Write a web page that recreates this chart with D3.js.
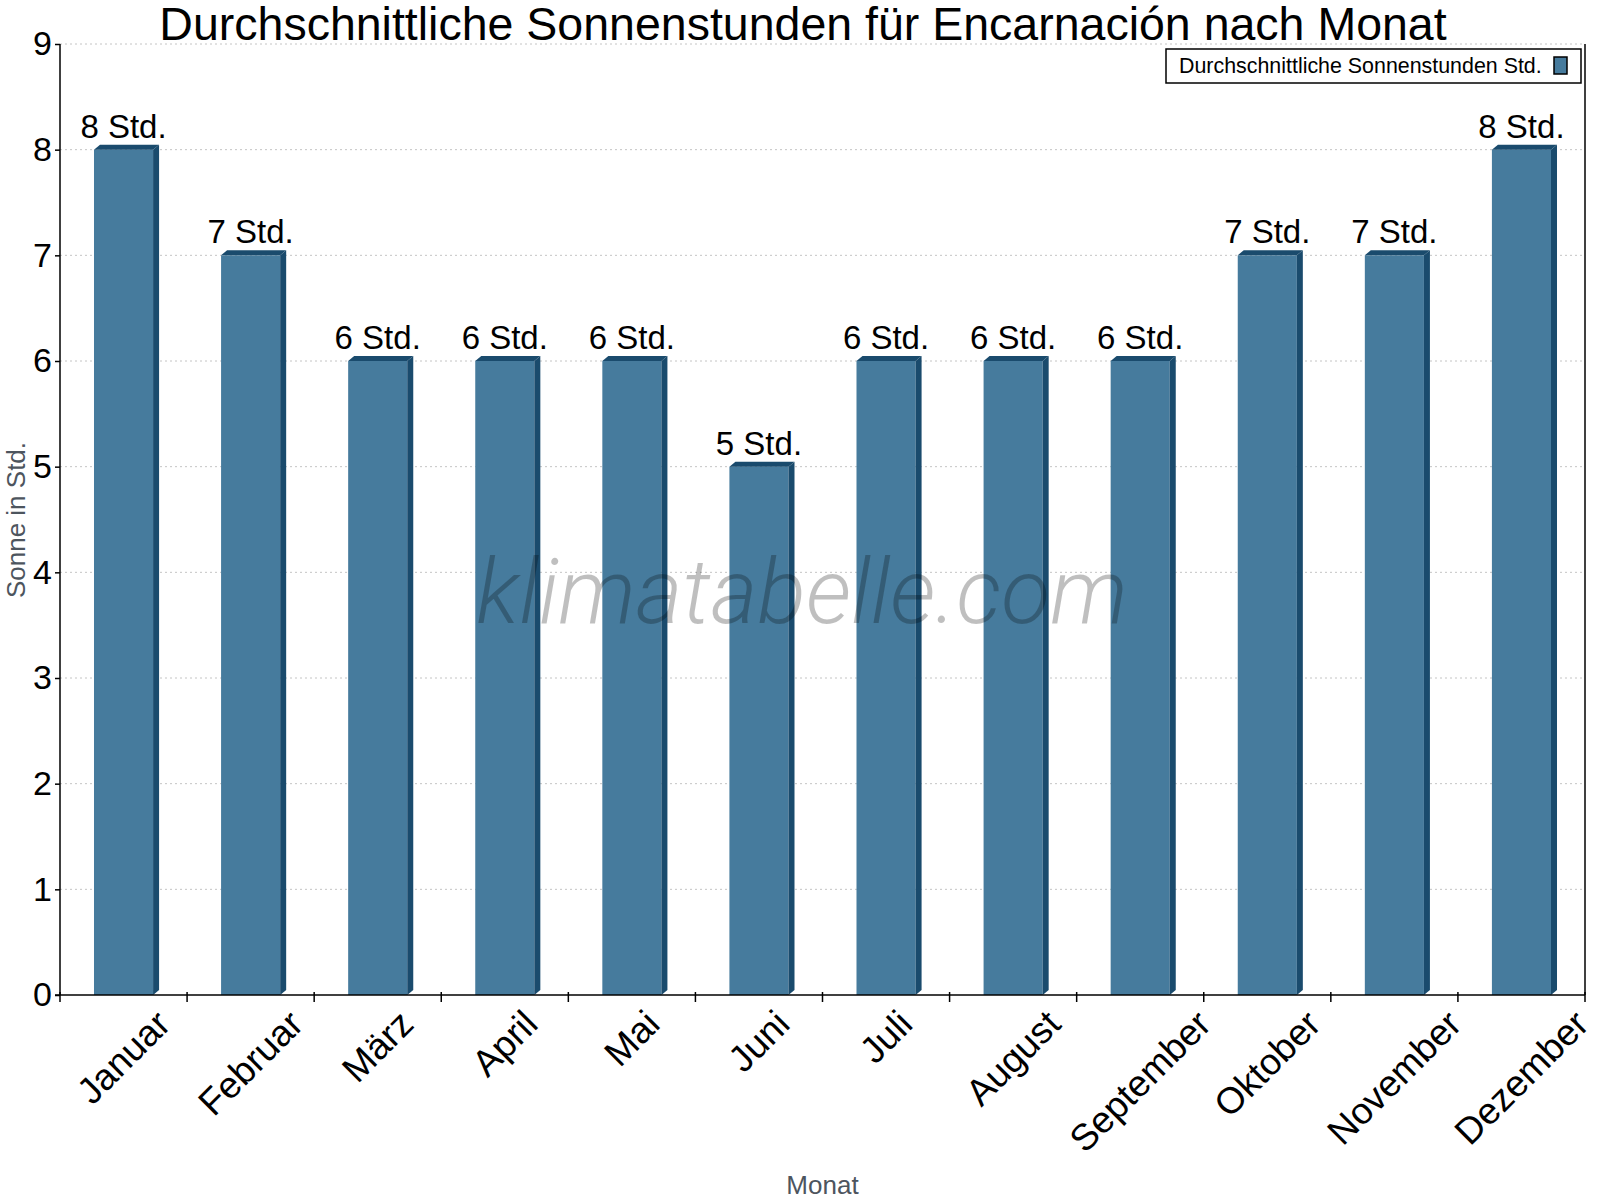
<!DOCTYPE html>
<html>
<head>
<meta charset="utf-8">
<script src="https://cdn.jsdelivr.net/npm/d3@7"></script>
<style>
  html, body { margin: 0; padding: 0; background: #fff; }
  svg { display: block; }
  text { font-family: "Liberation Sans", Arial, sans-serif; }
</style>
</head>
<body>
<svg id="chart" width="1600" height="1200"></svg>
<script>
const chartTitle = "Durchschnittliche Sonnenstunden für Encarnación nach Monat";
const months = ["Januar", "Februar", "März", "April", "Mai", "Juni", "Juli", "August", "September", "Oktober", "November", "Dezember"];
const sunHours = [8, 7, 6, 6, 6, 5, 6, 6, 6, 7, 7, 8];
const yTicks = [0, 1, 2, 3, 4, 5, 6, 7, 8, 9];
const unitLabel = "Std.";
const legendLabel = "Durchschnittliche Sonnenstunden Std.";
const yAxisTitle = "Sonne in Std.";
const xAxisTitle = "Monat";
const watermark = "klimatabelle.com";

const frontColor = "#467b9d";
const darkColor = "#1a4b6d";

const svg = d3.select("#chart");
const plotL = 60, plotR = 1585, plotT = 44, plotB = 995;

const x = d3.scaleBand().domain(months).range([plotL, plotR]).padding(0);
const y = d3.scaleLinear().domain([0, 9]).range([plotB, plotT]);
const bw = x.bandwidth();
const barW = bw * 0.465;
const depthX = 6, depthY = 5;

// gridlines
svg.append("g").selectAll("line").data(yTicks.filter(t => t > 0)).join("line")
  .attr("x1", plotL).attr("x2", plotR)
  .attr("y1", d => y(d)).attr("y2", d => y(d))
  .attr("stroke", "#c4c4c4").attr("stroke-width", 1)
  .attr("stroke-dasharray", "2,3");

// bars
const barData = months.map((m, i) => ({m, v: sunHours[i]}));
const bars = svg.append("g").selectAll("g").data(barData).join("g");
bars.each(function(d) {
  const g = d3.select(this);
  const x0 = x(d.m) + (bw - barW) / 2, x1 = x0 + barW;
  const yt = y(d.v), yb = y(0);
  g.append("rect").attr("x", x0).attr("y", yt).attr("width", barW).attr("height", yb - yt).attr("fill", frontColor);
  g.append("polygon").attr("fill", darkColor)
    .attr("points", [[x1, yt], [x1 + depthX, yt - depthY], [x1 + depthX, yb - depthY], [x1, yb]].map(p => p.join(",")).join(" "));
  g.append("polygon").attr("fill", darkColor)
    .attr("points", [[x0, yt], [x0 + depthX, yt - depthY], [x1 + depthX, yt - depthY], [x1, yt]].map(p => p.join(",")).join(" "));
});

// value labels
svg.append("g").selectAll("text").data(barData).join("text")
  .attr("x", d => x(d.m) + bw / 2)
  .attr("y", d => y(d.v) - 12)
  .attr("text-anchor", "middle")
  .attr("font-size", 33)
  .attr("fill", "#000")
  .text(d => `${d.v} ${unitLabel}`);

// watermark
svg.append("text")
  .attr("x", 802).attr("y", 623)
  .attr("text-anchor", "middle")
  .attr("font-size", 90)
  .attr("font-style", "italic")
  .attr("font-weight", 300)
  .style("font-family", "Roboto, 'Open Sans', sans-serif")
  .attr("fill", "#000").attr("fill-opacity", 0.25)
  .text(watermark);

// y axis
const yAxis = svg.append("g").attr("transform", `translate(${plotL},0)`)
  .call(d3.axisLeft(y).tickValues(yTicks).tickFormat(d3.format("d")).tickSize(5).tickPadding(3));
yAxis.select(".domain").attr("stroke", "#000").attr("stroke-width", 1.5).attr("d", `M0,${plotT}V${plotB}`);
yAxis.selectAll(".tick line").attr("stroke", "#000").attr("stroke-width", 1.5);
yAxis.selectAll(".tick text").attr("font-size", 34).attr("fill", "#000")
  .style("font-family", "'Liberation Sans', Arial, sans-serif");

// right border
svg.append("line").attr("x1", plotR).attr("x2", plotR).attr("y1", plotT).attr("y2", plotB)
  .attr("stroke", "#000").attr("stroke-width", 1.5);

// x axis
svg.append("line").attr("x1", plotL - 5).attr("x2", plotR).attr("y1", plotB).attr("y2", plotB)
  .attr("stroke", "#000").attr("stroke-width", 1.5);
const boundaries = months.map(m => x(m)).concat([plotR]);
svg.append("g").selectAll("line").data(boundaries).join("line")
  .attr("x1", d => d).attr("x2", d => d).attr("y1", plotB - 3).attr("y2", plotB + 7)
  .attr("stroke", "#000").attr("stroke-width", 1.5);

// x labels (rotated, top of bounding box aligned)
const xFont = 37;
const xl = svg.append("g").selectAll("text").data(months).join("text")
  .attr("font-size", xFont).attr("fill", "#000")
  .attr("text-anchor", "middle").attr("dominant-baseline", "central")
  .text(d => d);
xl.each(function(d) {
  const L = this.getComputedTextLength();
  const h = 0.72 * xFont;
  const half = (L + h) * Math.SQRT1_2 / 2;
  const cx = x(d) + bw / 2;
  const cy = 1008 + half;
  d3.select(this).attr("transform", `translate(${cx},${cy}) rotate(-45)`);
});

// axis titles
svg.append("text").attr("transform", `translate(25,520) rotate(-90)`)
  .attr("text-anchor", "middle").attr("font-size", 26).attr("fill", "#4d555e")
  .text(yAxisTitle);
svg.append("text").attr("x", (plotL + plotR) / 2).attr("y", 1194)
  .attr("text-anchor", "middle").attr("font-size", 26).attr("fill", "#4d555e")
  .text(xAxisTitle);

// title
svg.append("text").attr("x", 803).attr("y", 40)
  .attr("text-anchor", "middle").attr("font-size", 46.5).attr("fill", "#000")
  .text(chartTitle);

// legend
const lg = svg.append("g");
lg.append("rect").attr("x", 1166).attr("y", 49).attr("width", 415).attr("height", 34)
  .attr("fill", "#fff").attr("stroke", "#000").attr("stroke-width", 1.5);
lg.append("text").attr("x", 1179).attr("y", 73).attr("font-size", 21.4).attr("fill", "#000").text(legendLabel);
lg.append("rect").attr("x", 1554).attr("y", 57).attr("width", 13).attr("height", 17)
  .attr("fill", frontColor).attr("stroke", "#000").attr("stroke-width", 1.5);
</script>
</body>
</html>
